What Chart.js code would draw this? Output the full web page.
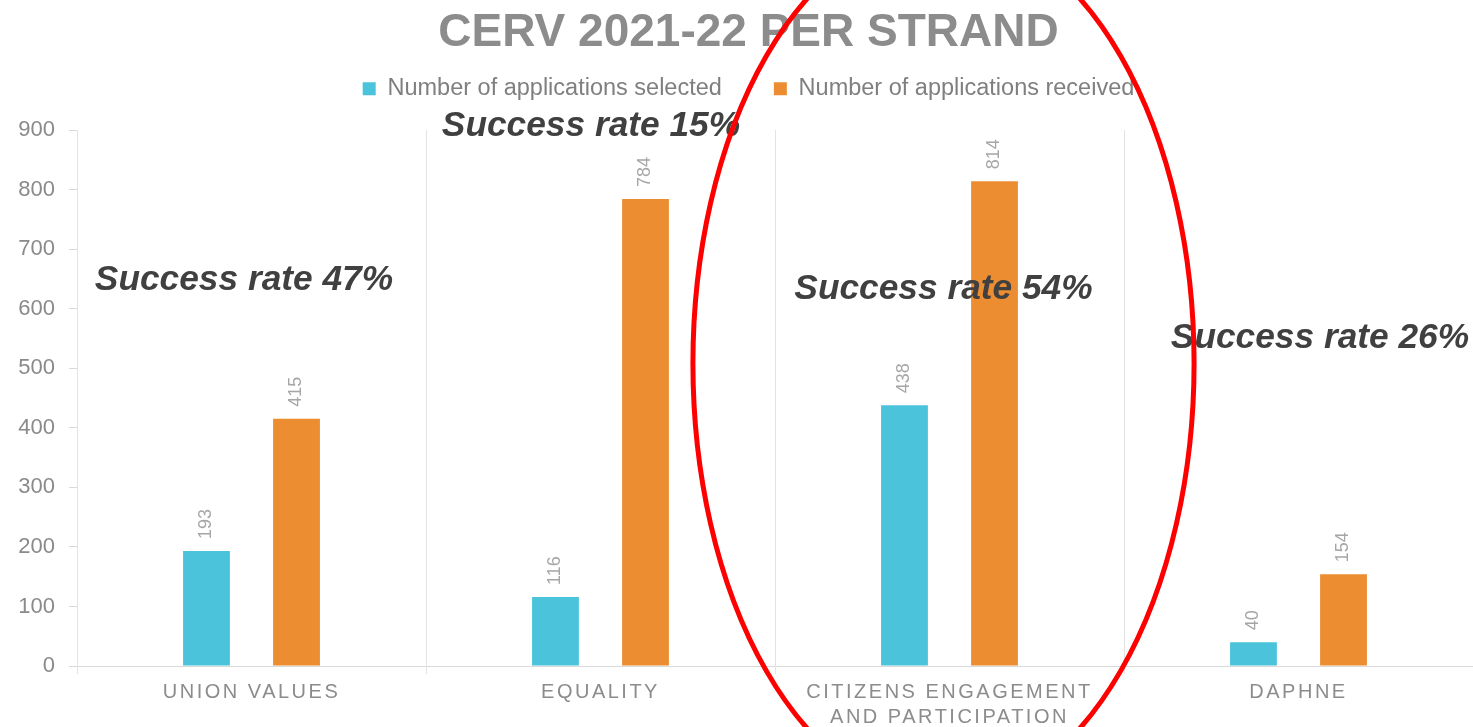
<!DOCTYPE html>
<html>
<head>
<meta charset="utf-8">
<title>CERV 2021-22 per strand</title>
<script src="https://cdn.jsdelivr.net/npm/chart.js@4/dist/chart.umd.min.js"></script>
<style>
    html, body { margin: 0; padding: 0; background: #ffffff; }
    #chart-wrap { position: relative; width: 1473px; height: 727px; }
</style>
</head>
<body>
<div id="chart-wrap"><canvas id="strandChart"></canvas></div>
<script>
// --- DATA ---
const strands = ['UNION VALUES', 'EQUALITY', ['CITIZENS ENGAGEMENT', 'AND PARTICIPATION'], 'DAPHNE'];
const selected = [193, 116, 438, 40];
const received = [415, 784, 814, 154];
const yTicks = [0, 100, 200, 300, 400, 500, 600, 700, 800, 900];

const FONT = "'Liberation Sans', Arial, sans-serif";

document.addEventListener("DOMContentLoaded", () => {

    // --- 1. VALUE LABELS (rotated, above each bar) ---
    const barValues = {
        id: 'barValues',
        afterDatasetsDraw(chart) {
            const ctx = chart.ctx;
            ctx.save();
            ctx.font = `18px ${FONT}`;
            ctx.fillStyle = '#a6a6a6';
            ctx.textAlign = 'left';
            ctx.textBaseline = 'middle';
            chart.data.datasets.forEach((ds, di) => {
                chart.getDatasetMeta(di).data.forEach((bar, i) => {
                    ctx.save();
                    ctx.translate(bar.x, bar.y - 12);
                    ctx.rotate(-Math.PI / 2);
                    ctx.fillText(String(ds.data[i]), 0, 0);
                    ctx.restore();
                });
            });
            ctx.restore();
        }
    };

    // --- 2. SUCCESS RATE NOTES + RED HAND-DRAWN ELLIPSE ---
    const notes = {
        id: 'notes',
        afterDraw(chart, args, opts) {
            const ctx = chart.ctx;
            const xs = chart.scales.x;
            const ys = chart.scales.y;
            ctx.save();
            ctx.font = `italic bold 35.3px ${FONT}`;
            ctx.fillStyle = '#404040';
            ctx.textAlign = 'center';
            ctx.textBaseline = 'middle';
            selected.forEach((s, i) => {
                const rate = Math.round(s / received[i] * 100);
                ctx.fillText(`Success rate ${rate}%`,
                    xs.getPixelForValue(i) + opts.dx[i],
                    ys.getPixelForValue(opts.at[i]));
            });

            // ellipse around the highlighted strand
            const e = opts.ellipse;
            const step = xs.getPixelForValue(1) - xs.getPixelForValue(0);
            const cx = xs.getPixelForValue(e.index) + e.dx;
            const cy = ys.getPixelForValue(e.center);
            const ry = ys.getPixelForValue(0) - ys.getPixelForValue(e.halfHeight);
            ctx.beginPath();
            ctx.ellipse(cx, cy, step * e.halfWidth, ry, 0, 0, Math.PI * 2);
            ctx.strokeStyle = '#ff0000';
            ctx.lineWidth = 5;
            ctx.stroke();
            ctx.restore();
        }
    };

    // --- 3. AXIS LABEL TWEAKS (letter spacing on x, no clipping on y) ---
    const axisTweaks = {
        id: 'axisTweaks',
        beforeDraw(chart) {
            const xs = chart.scales.x;
            const ys = chart.scales.y;
            // y labels spill into the left padding, so don't clip them to the axis box
            ys._computeLabelArea = () => undefined;
            if (xs._spaced) return;
            const orig = xs.drawLabels.bind(xs);
            xs.drawLabels = (area) => {
                xs.ctx.save();
                xs.ctx.letterSpacing = '2.5px';
                orig(area);
                xs.ctx.restore();
            };
            xs._spaced = true;
        }
    };

    // --- 4. CHART ---
    const ctx = document.getElementById('strandChart').getContext('2d');
    new Chart(ctx, {
        type: 'bar',
        data: {
            labels: strands,
            datasets: [
                {
                    label: 'Number of applications selected',
                    data: selected,
                    backgroundColor: '#4ac3db',
                    categoryPercentage: 0.516,
                    barPercentage: 0.52
                },
                {
                    label: 'Number of applications received',
                    data: received,
                    backgroundColor: '#ec8d31',
                    categoryPercentage: 0.516,
                    barPercentage: 0.52
                }
            ]
        },
        options: {
            responsive: true,
            maintainAspectRatio: false,
            animation: false,
            layout: { padding: { left: 24, right: 0, top: 2, bottom: -8 } },
            plugins: {
                title: {
                    display: true,
                    text: 'CERV 2021-22 PER STRAND',
                    color: '#8c8c8c',
                    font: { family: FONT, size: 46, weight: 'bold', lineHeight: 1 },
                    padding: { top: 8, bottom: -31 }
                },
                legend: {
                    display: true,
                    position: 'top',
                    labels: {
                        color: '#7f7f7f',
                        font: { family: FONT, size: 23.5 },
                        boxWidth: 13,
                        boxHeight: 13,
                        padding: 52
                    }
                },
                // empty spacer between legend and plot
                subtitle: {
                    display: true,
                    text: '',
                    weight: 500,
                    font: { size: 1, lineHeight: 1 },
                    padding: { top: 0, bottom: 18.5 }
                },
                tooltip: { enabled: false },
                notes: {
                    at: [648, 907, 633, 550],
                    dx: [-7.5, -9.5, -6, 21.5],
                    ellipse: { index: 2, dx: -6, center: 508, halfWidth: 0.718, halfHeight: 730 }
                }
            },
            scales: {
                x: {
                    grid: { color: '#e3e3e3', offset: true, tickLength: 8 },
                    border: { color: '#d9d9d9' },
                    ticks: {
                        color: '#8c8c8c',
                        font: { family: FONT, size: 20, lineHeight: 1.25 },
                        padding: 5.5,
                        maxRotation: 0,
                        autoSkip: false
                    }
                },
                y: {
                    min: 0,
                    max: 900,
                    afterBuildTicks: (scale) => { scale.ticks = yTicks.map(v => ({ value: v })); },
                    // fixed axis width; labels may spill into the left padding
                    afterFit: (scale) => { scale.width = 53; },
                    grid: { drawOnChartArea: false, color: '#d9d9d9', tickLength: 8 },
                    border: { color: '#e3e3e3' },
                    ticks: {
                        color: '#8a8a8a',
                        font: { family: FONT, size: 22 },
                        padding: 14
                    }
                }
            }
        },
        plugins: [barValues, notes, axisTweaks]
    });
});
</script>
</body>
</html>
